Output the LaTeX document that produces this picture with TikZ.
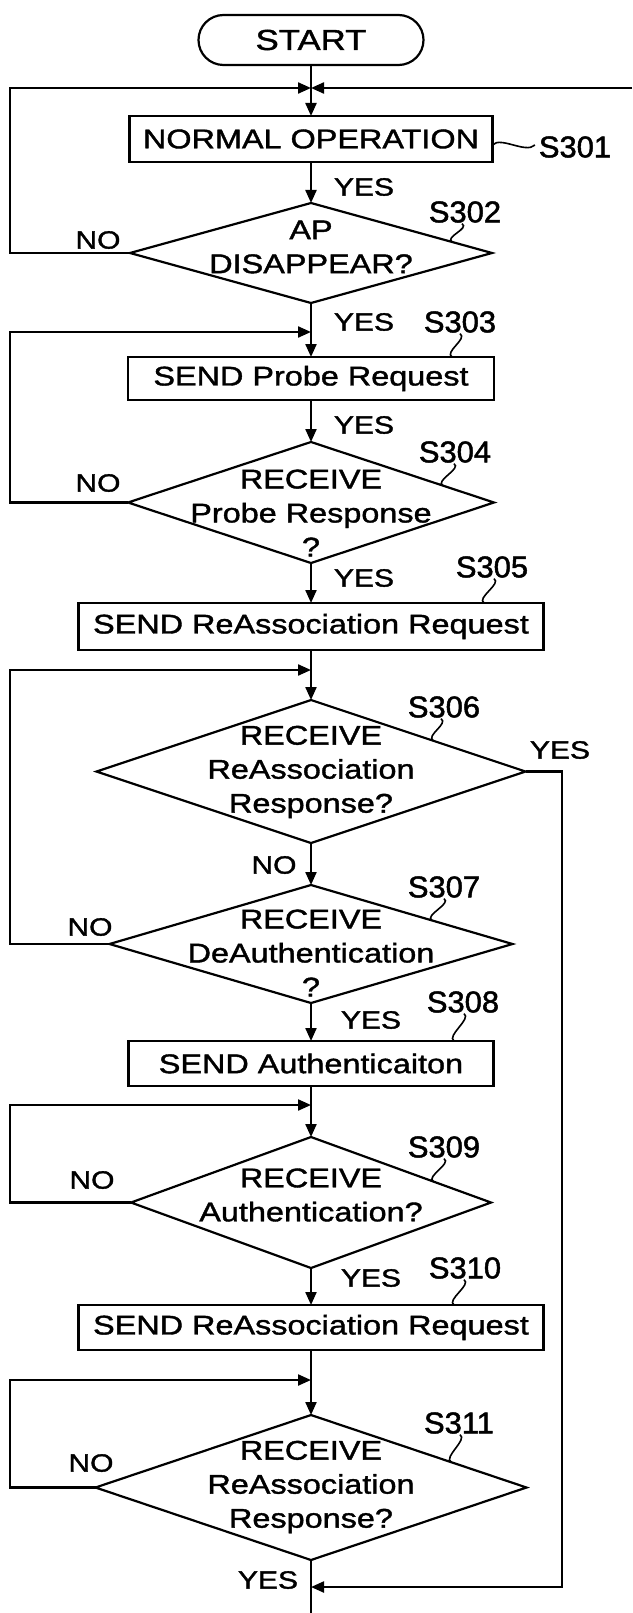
\documentclass[tikz,border=0pt]{standalone}
\usepackage{fontspec}
\setmainfont{Liberation Sans}[FakeStretch=1.2, FakeBold=1.4]
\newfontfamily\stepfont{Liberation Sans}[FakeStretch=1.03, FakeBold=1.6]
\usetikzlibrary{arrows.meta,shapes.geometric,calc}

\begin{document}
\begin{tikzpicture}[x=1pt,y=-1pt,
  line width=2.2pt,
  every node/.style={inner sep=0pt, outer sep=0pt},
  txt/.style={font=\fontsize{27}{34}\selectfont, align=center},
  yn/.style={font=\fontsize{25}{28}\selectfont},
  lab/.style={font=\stepfont\fontsize{30}{32}\selectfont},
  proc/.style={draw, rectangle, txt},
  dec/.style 2 args={draw, diamond, minimum width=#1pt, minimum height=#2pt},
  arr/.style={-{Triangle[length=13pt,width=11pt]}},
  sq/.style={line width=1.6pt},
]
\useasboundingbox (0,0) rectangle (632,1613);

% guide coordinates for the loop-back lines
\coordinate (xl) at (10,0);
\coordinate (xr) at (562,0);

% terminal and process boxes
\node[draw, rounded corners=25pt, minimum width=225pt, minimum height=50pt, txt, font=\fontsize{29}{34}\selectfont] (start) at (311,40) {START};
\node[proc, minimum width=363pt, minimum height=46pt] (n1) at (311,139) {NORMAL OPERATION};
\node[proc, minimum width=366pt, minimum height=43pt] (n3) at (311,378.5) {SEND Probe Request};
\node[proc, minimum width=465pt, minimum height=47pt] (n5) at (311,626.5) {SEND ReAssociation Request};
\node[proc, minimum width=365pt, minimum height=45pt] (n8) at (311,1063.5) {SEND Authenticaiton};
\node[proc, minimum width=465pt, minimum height=45pt] (n10) at (311,1327.5) {SEND ReAssociation Request};

% decisions
\node[dec={362}{100}] (d2) at (311,253) {};
\node[txt] (t2) at (311,247) {AP\\DISAPPEAR?};
\node[dec={366}{121}] (d4) at (311,502.5) {};
\node[txt] (t4) at (311,513) {RECEIVE\\Probe Response\\?};
\node[dec={429}{143}] (d6) at (311,771.5) {};
\node[txt] (t6) at (311,772) {RECEIVE\\ReAssociation\\Response?};
\node[dec={403}{118}] (d7) at (311,944) {};
\node[txt] (t7) at (311,953) {RECEIVE\\DeAuthentication\\?};
\node[dec={360}{131}] (d9) at (311,1202.5) {};
\node[txt] (t9) at (311,1195) {RECEIVE\\Authentication?};
\node[dec={431}{145}] (d11) at (311,1487.5) {};
\node[txt] (t11) at (311,1487) {RECEIVE\\ReAssociation\\Response?};

% junction points on the main axis
\coordinate (j1) at (311,88);
\coordinate (inR) at (632,88);
\coordinate (j3) at (311,332);
\coordinate (j6) at (311,670);
\coordinate (j9) at (311,1105);
\coordinate (j11) at (311,1380);
\coordinate (m) at (311,1587);
\coordinate (out) at (311,1613);

% main flow
\draw (start.south) -- (j1);
\draw[arr] (j1) -- (n1.north);
\draw[arr] (n1.south) -- (d2.north);
\draw[arr] (d2.south) -- (n3.north);
\draw[arr] (n3.south) -- (d4.north);
\draw[arr] (d4.south) -- (n5.north);
\draw[arr] (n5.south) -- (d6.north);
\draw[arr] (d6.south) -- (d7.north);
\draw[arr] (d7.south) -- (n8.north);
\draw[arr] (n8.south) -- (d9.north);
\draw[arr] (d9.south) -- (n10.north);
\draw[arr] (n10.south) -- (d11.north);
\draw (d11.south) -- (out);

% loop-backs
\draw[arr] (inR) -- (j1);
\draw[arr] (d2.west) -- (d2.west -| xl) |- (j1);
\draw[arr] (d4.west) -- (d4.west -| xl) |- (j3);
\draw[arr] (d7.west) -- (d7.west -| xl) |- (j6);
\draw[arr] (d9.west) -- (d9.west -| xl) |- (j9);
\draw[arr] (d11.west) -- (d11.west -| xl) |- (j11);
\draw[arr] (d6.east) -- (d6.east -| xr) |- (m);

% branch labels
\node[yn] (y1) at (364,187) {YES};
\node[yn] (y2) at (364,322) {YES};
\node[yn] (y3) at (364,425) {YES};
\node[yn] (y4) at (364,578) {YES};
\node[yn] (y6) at (560,750) {YES};
\node[yn] (no6) at (274,865) {NO};
\node[yn] (y7) at (371,1020) {YES};
\node[yn] (y9) at (371,1278) {YES};
\node[yn] (y11) at (268,1580) {YES};
\node[yn] (no2) at (98,240) {NO};
\node[yn] (no4) at (98,483) {NO};
\node[yn] (no7) at (90,927) {NO};
\node[yn] (no9) at (92,1180) {NO};
\node[yn] (no11) at (91,1463) {NO};

% step numbers with their leader squiggles
\node[lab] (s301) at (575,147) {S301};
\node[lab] (s302) at (465,212) {S302};
\node[lab] (s303) at (460,322) {S303};
\node[lab] (s304) at (455,452) {S304};
\node[lab] (s305) at (492,567) {S305};
\node[lab] (s306) at (444,707) {S306};
\node[lab] (s307) at (444,887) {S307};
\node[lab] (s308) at (463,1002) {S308};
\node[lab] (s309) at (444,1147) {S309};
\node[lab] (s310) at (465,1268) {S310};
\node[lab] (s311) at (459,1423) {S311};

\draw[sq] ($(n1.east)+(0,6)$) .. controls +(8,-9) and +(-9,9) .. ($(s301.west)+(-4,-2)$);
\draw[sq] ($(s302.south)+(-3,1)$) .. controls +(8,5) and +(-8,-5) .. ($(d2.north)!0.78!(d2.east)$);
\draw[sq] ($(s303.south)+(0,1)$) .. controls +(8,5) and +(-8,-5) .. ($(n3.north)+(141,0)$);
\draw[sq] ($(s304.south)+(-1,1)$) .. controls +(8,5) and +(-8,-5) .. ($(d4.north)!0.72!(d4.east)$);
\draw[sq] ($(s305.south)+(2,1)$) .. controls +(8,5) and +(-8,-5) .. ($(n5.north)+(173,0)$);
\draw[sq] ($(s306.south)+(-3,1)$) .. controls +(8,5) and +(-8,-5) .. ($(d6.north)!0.57!(d6.east)$);
\draw[sq] ($(s307.south)+(0,1)$) .. controls +(8,5) and +(-8,-5) .. ($(d7.north)!0.6!(d7.east)$);
\draw[sq] ($(s308.south)+(1,1)$) .. controls +(8,5) and +(-8,-5) .. ($(n8.north)+(143,0)$);
\draw[sq] ($(s309.south)+(0,1)$) .. controls +(8,5) and +(-8,-5) .. ($(d9.north)!0.68!(d9.east)$);
\draw[sq] ($(s310.south)+(-1,1)$) .. controls +(8,5) and +(-8,-5) .. ($(n10.north)+(143,0)$);
\draw[sq] ($(s311.south)+(1,1)$) .. controls +(8,5) and +(-8,-5) .. ($(d11.north)!0.65!(d11.east)$);
\end{tikzpicture}
\end{document}
